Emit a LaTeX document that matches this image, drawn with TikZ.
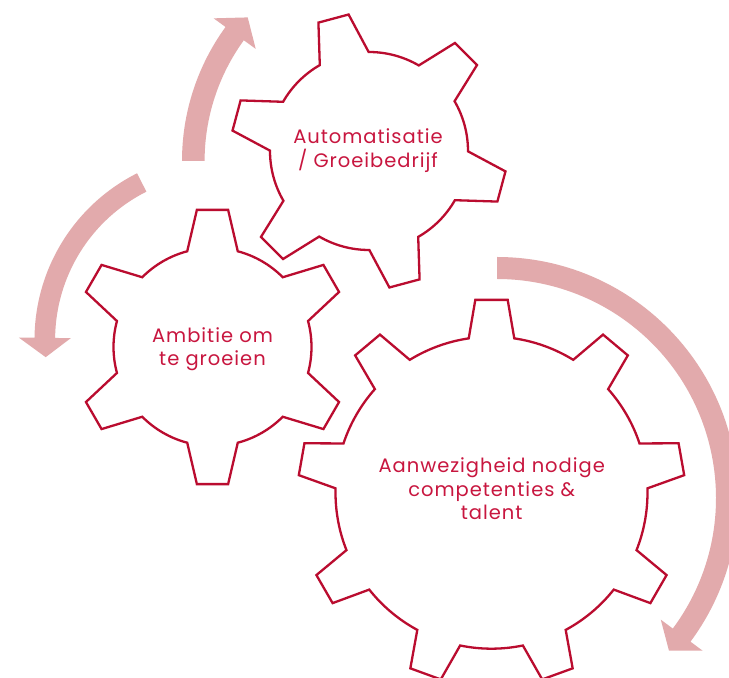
\documentclass[tikz,border=0pt]{standalone}
\usepackage{fontspec}
\setmainfont{Poppins}
\newfontfamily\gearfont{Poppins}[LetterSpace=5]
\usepackage{tikz}
\usetikzlibrary{calc}
\definecolor{bg}{HTML}{FFFFFF}
\definecolor{gearred}{HTML}{BA0C2F}
\definecolor{labred}{HTML}{C8163F}
\definecolor{cyclepink}{HTML}{E2AAAC}
\tikzset{
  gearline/.style={draw=gearred, line width=2.3pt, line join=miter},
  cyclearrow/.style={fill=cyclepink},
  gearlab/.style={text=labred, font=\gearfont\fontsize{19.5}{23.5}\selectfont, align=center, inner sep=0pt},
}
% #1 centre, #2 teeth, #3 inner r, #4 outer r, #5 base half-angle, #6 tip half-angle, #7 first tooth
\newcommand{\gearshape}[7]{%
  \pgfmathtruncatemacro\lastk{#2-1}
  \draw[gearline, shift={#1}] ({#7-#5}:#3)
    \foreach \k in {0,...,\lastk}{
      -- ({#7+\k*360/#2-#6}:#4) -- ({#7+\k*360/#2+#6}:#4) -- ({#7+\k*360/#2+#5}:#3)
      arc[start angle={#7+\k*360/#2+#5}, end angle={#7+(\k+1)*360/#2-#5}, radius=#3]
    } -- cycle;
}
% #1 centre, #2 radius, #3 start, #4 back of head, #5 tip, #6 half width
\newcommand{\cyclepath}[6]{%
  \fill[cyclearrow, shift={#1}] ({#3}:{#2+#6}) arc[start angle=#3, end angle=#4, radius={#2+#6}]
    -- ({#4}:{#2+26}) -- ({#5}:#2) -- ({#4}:{#2-26}) -- ({#4}:{#2-#6})
    arc[start angle=#4, end angle=#3, radius={#2-#6}] -- cycle;
}

\begin{document}
\begin{tikzpicture}[x=1pt, y=1pt]
  \useasboundingbox[fill=bg] (0,0) rectangle (729,678);

  \cyclepath{(410,517)}{216.7}{180}{144}{138.5}{11.3}
  \cyclepath{(220.8,338.3)}{176}{116.7}{179.4}{185.7}{10.3}
  \cyclepath{(497,180)}{230}{90}{-36.6}{-41.6}{11}

  \gearshape{(369,527)}{6}{99}{138}{14.8}{6.5}{45}
  \gearshape{(212.5,331)}{6}{99}{138}{14.8}{6.5}{30}
  \gearshape{(491.5,185.3)}{9}{156}{193.5}{8.4}{4.8}{10}

  \node[gearlab] (automatisatie) at (368,527.5) {Automatisatie\\/ Groeibedrijf};
  \node[gearlab] (ambitie) at (212.5,328.8) {Ambitie om\\te groeien};
  \node[gearlab] (talent) at (491.7,189.2) {Aanwezigheid nodige\\competenties \&\\talent};
\end{tikzpicture}
\end{document}
